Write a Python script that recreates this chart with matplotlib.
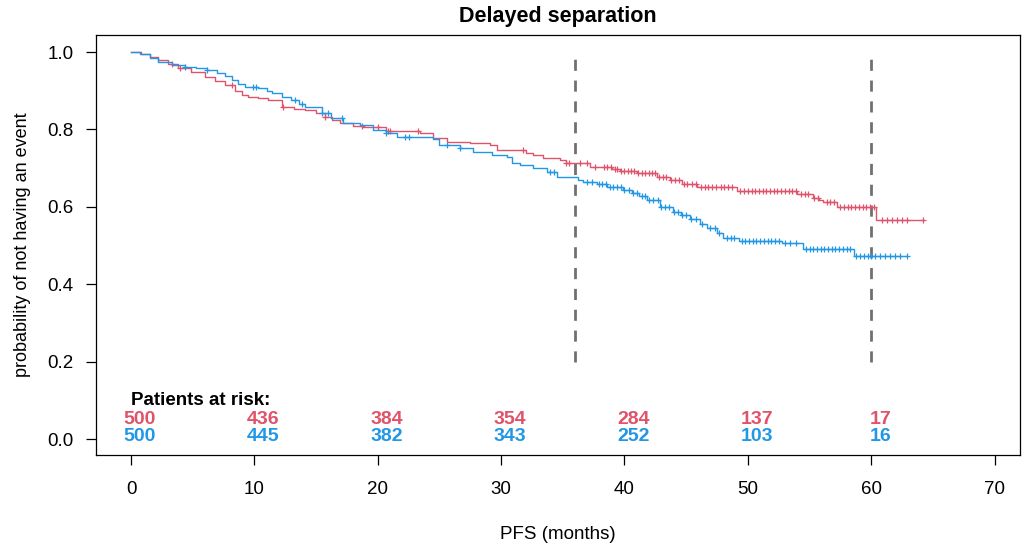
import numpy as np
import matplotlib
matplotlib.use('Agg')
import matplotlib.pyplot as plt

plt.rcParams['font.family'] = ['Liberation Sans', 'DejaVu Sans']

RED = '#DF536B'
BLUE = '#2297E6'

# Kaplan-Meier steps: time (months) where the estimate drops, and the new value
red_t = [0, 0.8, 1.5, 2.2, 3.0, 3.8, 4.9, 6.0, 6.8, 7.6, 8.4, 9.0, 9.5, 10.3, 11.1,
         12.2, 13.2, 14.1, 15.0, 15.7, 16.3, 16.9, 18.0, 18.8, 20.7, 23.4, 24.5,
         25.6, 27.5, 29.1, 29.7, 32.0, 32.6, 33.4, 34.8, 35.3, 37.2, 39.0, 39.6,
         41.0, 42.6, 43.7, 44.7, 45.9, 49.1, 54.0, 55.3, 55.8, 56.1, 57.2, 60.4]
red_s = [1.0, 0.995, 0.988, 0.979, 0.968, 0.959, 0.948, 0.935, 0.925, 0.915, 0.900,
         0.889, 0.884, 0.880, 0.876, 0.858, 0.854, 0.850, 0.842, 0.832, 0.824, 0.816,
         0.810, 0.806, 0.796, 0.790, 0.778, 0.767, 0.765, 0.760, 0.747, 0.740, 0.734,
         0.726, 0.721, 0.713, 0.703, 0.698, 0.693, 0.687, 0.677, 0.669, 0.659, 0.651,
         0.642, 0.634, 0.624, 0.618, 0.612, 0.600, 0.566]
red_end = 64.2

blue_t = [0, 0.7, 1.5, 2.2, 3.3, 4.4, 5.3, 6.2, 7.0, 7.6, 8.2, 8.7, 9.2, 10.3, 11.0,
          11.4, 12.2, 13.0, 13.6, 14.1, 15.5, 16.2, 17.2, 18.6, 19.6, 20.7, 21.6,
          24.5, 25.0, 26.7, 27.7, 29.3, 30.5, 30.9, 31.5, 32.6, 33.7, 34.5, 36.2,
          36.6, 37.8, 38.6, 39.9, 40.6, 41.2, 41.8, 42.9, 43.9, 44.6, 45.3, 46.1,
          46.7, 47.5, 48.0, 49.3, 52.8, 54.5, 58.6]
blue_s = [1.0, 0.994, 0.985, 0.974, 0.966, 0.962, 0.958, 0.954, 0.946, 0.937, 0.928,
          0.918, 0.910, 0.906, 0.898, 0.893, 0.885, 0.876, 0.866, 0.857, 0.842, 0.830,
          0.816, 0.811, 0.798, 0.790, 0.780, 0.775, 0.760, 0.752, 0.742, 0.734, 0.729,
          0.713, 0.708, 0.700, 0.690, 0.677, 0.670, 0.664, 0.659, 0.651, 0.643, 0.636,
          0.628, 0.618, 0.600, 0.588, 0.578, 0.568, 0.556, 0.545, 0.532, 0.519, 0.512,
          0.506, 0.492, 0.474]
blue_end = 62.9

# censored observations
red_cens = [3.3, 4.0, 8.2, 12.3, 15.7, 18.7, 20.0, 20.8, 21.0, 23.3, 31.8, 35.3, 35.5,
            36.4, 37.0, 37.6, 38.3, 38.6, 38.9, 39.2, 39.4, 39.7, 40.0, 40.3, 40.5, 40.8,
            41.1, 41.4, 41.7, 42.0, 42.2, 42.5, 42.8, 43.1, 43.4, 43.8, 44.1, 44.4, 44.8,
            45.1, 45.5, 45.8, 46.2, 46.5, 46.8, 47.1, 47.4, 47.8, 48.1, 48.4, 48.7, 49.4,
            49.7, 50.0, 50.3, 50.6, 50.9, 51.2, 51.5, 51.8, 52.1, 52.4, 52.7, 53.0, 53.3,
            53.6, 53.9, 54.3, 54.6, 54.9, 55.4, 55.7, 56.4, 56.7, 57.0, 57.5, 57.8, 58.1,
            58.4, 58.7, 59.0, 59.3, 59.6, 59.9, 60.2, 60.9, 61.3, 61.7, 62.1, 62.5, 62.9,
            64.2]
blue_cens = [4.4, 6.2, 9.9, 10.1, 13.3, 13.9, 15.5, 16.0, 17.1, 20.7, 22.2, 22.5, 25.6,
             26.7, 34.0, 34.3, 37.0, 37.4, 37.9, 38.2, 38.5, 38.8, 39.1, 39.4, 39.7, 40.0,
             40.4, 40.7, 41.0, 41.4, 41.7, 42.0, 42.3, 42.7, 43.0, 43.3, 43.6, 44.0, 44.3,
             44.7, 45.0, 45.4, 45.8, 46.3, 46.9, 47.3, 47.7, 48.3, 48.6, 48.9, 49.5, 49.8,
             50.1, 50.4, 50.7, 51.0, 51.3, 51.6, 51.9, 52.2, 52.5, 53.0, 53.4, 53.9, 54.7,
             55.0, 55.3, 55.6, 55.9, 56.2, 56.5, 56.8, 57.1, 57.4, 57.7, 58.0, 58.3, 58.8,
             59.1, 59.4, 59.7, 60.0, 60.3, 60.7, 61.1, 61.5, 61.9, 62.3, 62.9]

risk_times = [0, 10, 20, 30, 40, 50, 60]
risk_red = [500, 436, 384, 354, 284, 137, 17]
risk_blue = [500, 445, 382, 343, 252, 103, 16]

landmarks = [36, 60]


def draw_km(ax, t, s, t_end, cens, color):
    tt = np.append(t, t_end)
    ss = np.append(s, s[-1])
    ax.step(tt, ss, where='post', color=color, lw=1.0, zorder=3)
    idx = np.searchsorted(t, cens, side='right') - 1
    ax.plot(cens, np.asarray(s)[idx], ls='none', marker='+', ms=5, mew=0.9,
            color=color, zorder=3)


fig = plt.figure(figsize=(10.32, 5.44), dpi=100)
ax = fig.add_axes([0.093, 0.1636, 0.895, 0.7721])

draw_km(ax, red_t, red_s, red_end, red_cens, RED)
draw_km(ax, blue_t, blue_s, blue_end, blue_cens, BLUE)

for x in landmarks:
    ax.plot([x, x], [0.2, 1.0], color='#707070', lw=2, ls=(0, (4, 3.5)), zorder=2)

ax.text(0, 0.10, 'Patients at risk:', fontsize=13.5, fontweight='bold', ha='left', va='center')
# numbers at risk sit a little right of each tick
for x, r, b in zip(risk_times, risk_red, risk_blue):
    ax.annotate(str(r), (x, 0.050), xytext=(9, 0), textcoords='offset pixels',
                color=RED, fontsize=14, fontweight='bold', ha='center', va='center')
    ax.annotate(str(b), (x, 0.006), xytext=(9, 0), textcoords='offset pixels',
                color=BLUE, fontsize=14, fontweight='bold', ha='center', va='center')

ax.set_xlim(-2.84, 72.03)
ax.set_ylim(-0.041, 1.044)
ax.set_xticks(range(0, 71, 10))
ax.set_yticks([0, 0.2, 0.4, 0.6, 0.8, 1.0])
ax.set_yticklabels(['0.0', '0.2', '0.4', '0.6', '0.8', '1.0'])
ax.tick_params(labelsize=13.5, length=7, width=0.9)
ax.tick_params(axis='x', pad=12)
ax.tick_params(axis='y', pad=9)
for sp in ax.spines.values():
    sp.set_linewidth(0.9)

ax.set_title('Delayed separation', fontsize=15.5, fontweight='bold', pad=9)
ax.set_xlabel('PFS (months)', fontsize=13.5, labelpad=20)
ax.set_ylabel('probability of not having an event', fontsize=13, labelpad=12)

fig.savefig('out.png', dpi=100)
